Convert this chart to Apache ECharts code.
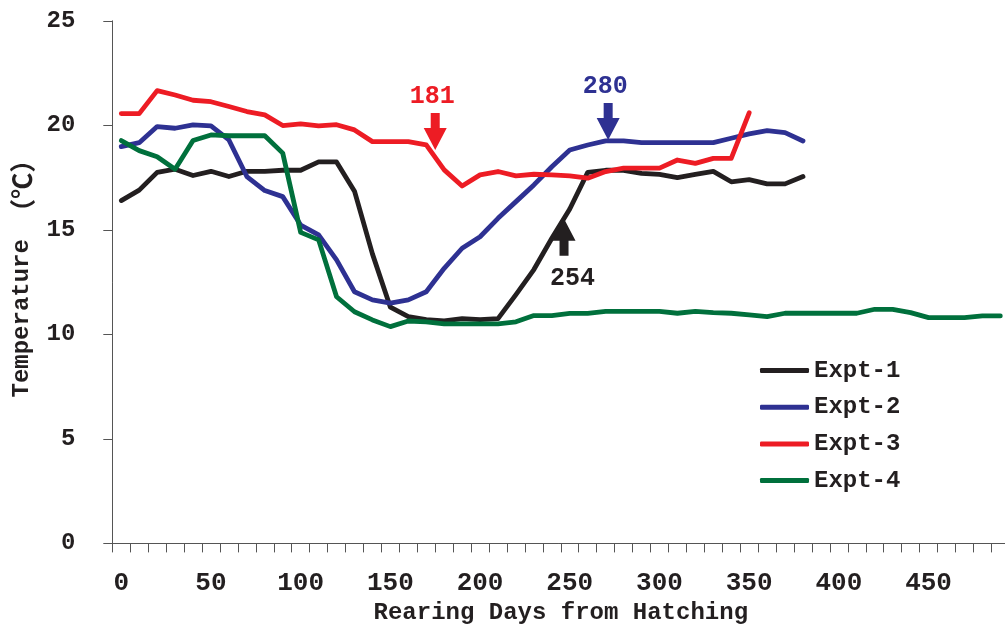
<!DOCTYPE html>
<html><head><meta charset="utf-8">
<script src="https://cdn.jsdelivr.net/npm/echarts@6/dist/echarts.min.js"></script>
<style>html,body{margin:0;padding:0;background:#fff;overflow:hidden}#c{width:1005px;height:624px}</style>
</head><body><div id="c"></div>
<script>
const days = ['0','10','20','30','40','50','60','70','80','90','100','110','120','130','140','150','160','170','180','190','200','210','220','230','240','250','260','270','280','290','300','310','320','330','340','350','360','370','380','390','400','410','420','430','440','450','460','470','480','490'];
const expt1 = [16.4,16.9,17.75,17.9,17.6,17.8,17.55,17.8,17.8,17.85,17.85,18.25,18.25,16.85,13.85,11.3,10.85,10.7,10.65,10.75,10.7,10.75,11.9,13.1,14.6,16.0,17.75,17.85,17.85,17.7,17.65,17.5,17.65,17.8,17.3,17.4,17.2,17.2,17.55];
const expt2 = [18.98,19.17,19.94,19.86,20.02,19.97,19.3,17.55,16.88,16.59,15.23,14.76,13.56,12.04,11.65,11.49,11.65,12.04,13.16,14.12,14.67,15.55,16.35,17.15,18.02,18.82,19.06,19.26,19.26,19.17,19.17,19.17,19.17,19.17,19.38,19.59,19.75,19.65,19.25];
const expt3 = [20.56,20.56,21.66,21.45,21.2,21.13,20.9,20.66,20.5,19.99,20.07,19.97,20.03,19.78,19.22,19.22,19.22,19.06,17.87,17.1,17.63,17.79,17.58,17.66,17.63,17.58,17.47,17.79,17.95,17.95,17.95,18.34,18.18,18.42,18.42,20.6];
const expt4 = [19.27,18.79,18.5,17.9,19.27,19.54,19.5,19.5,19.5,18.67,14.88,14.52,11.8,11.08,10.69,10.37,10.64,10.6,10.5,10.5,10.5,10.5,10.6,10.9,10.9,11.0,11.0,11.1,11.1,11.1,11.1,11.01,11.1,11.04,11.01,10.93,10.85,11.01,11.01,11.01,11.01,11.01,11.2,11.2,11.04,10.8,10.8,10.8,10.88,10.88];
const seriesNames = ['Expt-1','Expt-2','Expt-3','Expt-4'];
const yTicks = [0,5,10,15,20,25];
// annotations: label, category position (fractional index), temperature at arrow tip, direction
const annLabels = ['181','280','254'];
const annIndex = [17.5, 27.14, 24.68];
const annValue = [18.82, 19.3, 15.53];
const annDir = ['down','down','up'];

const FONT = '"Liberation Mono", "Noto Sans CJK JP", monospace';
const CJK = '"Noto Sans CJK JP", sans-serif';
const TXT = '#231f20';
const colors = {'Expt-1':'#231f20','Expt-2':'#2e3192','Expt-3':'#ed1c24','Expt-4':'#00703c'};
const annColors = ['#ed1c24','#2e3192','#231f20'];
const data = {'Expt-1':expt1,'Expt-2':expt2,'Expt-3':expt3,'Expt-4':expt4};
const zOrder = {'Expt-1':2,'Expt-2':3,'Expt-3':5,'Expt-4':4};

const chart = echarts.init(document.getElementById('c'), null, {renderer:'canvas', width:1005, height:624});
const option = {
  animation:false,
  backgroundColor:'#fff',
  grid:{left:112.3, top:20.8, bottom:80.6, right:-4.3, containLabel:false, outerBoundsMode:'none'},
  legend:{
    orient:'vertical', left:755, top:353.5,
    icon:'roundRect', itemWidth:49, itemHeight:5, itemGap:12.7,
    data:seriesNames,
    textStyle:{fontFamily:FONT, fontSize:24, fontWeight:'bold', color:TXT, lineHeight:24}
  },
  xAxis:{
    type:'category', data:days, boundaryGap:true,
    name:'Rearing Days from Hatching', nameLocation:'middle', nameGap:58,
    nameTextStyle:{fontFamily:FONT, fontSize:24, fontWeight:'bold', color:TXT},
    axisLine:{show:true, lineStyle:{color:'#555', width:1}},
    axisTick:{show:true, interval:0, length:9, alignWithLabel:false, lineStyle:{color:'#555'}},
    axisLabel:{interval:4, margin:27, fontFamily:FONT, fontSize:26, fontWeight:'bold', color:TXT},
    splitLine:{show:false}
  },
  yAxis:{
    type:'value', min:yTicks[0], max:yTicks[yTicks.length-1], interval:5,
    name:'{a|Temperature }{b|（℃）}', nameLocation:'middle', nameGap:77, nameRotate:90,
    nameTextStyle:{fontFamily:FONT, fontSize:24, fontWeight:'bold', color:TXT, padding:[0,0,0,20],
      rich:{
        a:{fontFamily:FONT, fontSize:24, fontWeight:'bold', color:TXT},
        b:{fontFamily:CJK, fontSize:26, fontWeight:'bold', color:TXT}
      }},
    axisLine:{show:true, lineStyle:{color:'#555', width:1}},
    axisTick:{show:true, length:9, lineStyle:{color:'#555'}},
    axisLabel:{margin:37, fontFamily:FONT, fontSize:24, fontWeight:'bold', color:TXT},
    splitLine:{show:false}
  },
  series: seriesNames.map(n => ({
    name:n, type:'line', data:data[n], symbol:'none', showSymbol:false,
    z: zOrder[n],
    color: colors[n],
    lineStyle:{color:colors[n], width:4.8, cap:'round', join:'round'}
  }))
};
chart.setOption(option);

function px(idx, val){
  const a = chart.convertToPixel({xAxisIndex:0, yAxisIndex:0}, [0, val]);
  const b = chart.convertToPixel({xAxisIndex:0, yAxisIndex:0}, [1, val]);
  return [a[0] + idx*(b[0]-a[0]), a[1]];
}
const graphics = [];
annLabels.forEach((lab, i) => {
  const [x, y] = px(annIndex[i], annValue[i]);
  const s = annDir[i] === 'down' ? 1 : -1;
  const pts = [[-4.5,-37],[4.5,-37],[4.5,-22],[11.5,-22],[0,0],[-11.5,-22],[-4.5,-22]]
    .map(p => [x + p[0], y + s*p[1]]);
  graphics.push({type:'polygon', shape:{points:pts}, style:{fill:annColors[i]}, z:10});
  graphics.push({type:'text', x: x + (s > 0 ? -3 : 8.5), y: y + (s > 0 ? -53 : 60),
    style:{text:lab, fill:annColors[i], font:'bold 25px ' + FONT, align:'center', verticalAlign:'middle'}, z:10});
});
chart.setOption({graphic:graphics});
</script>
</body></html>
